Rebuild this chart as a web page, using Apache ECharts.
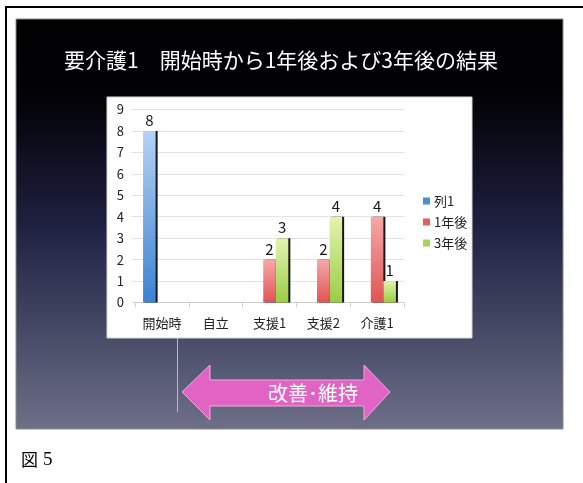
<!DOCTYPE html>
<html>
<head>
<meta charset="utf-8">
<script src="https://cdn.jsdelivr.net/npm/echarts@6/dist/echarts.min.js"></script>
<style>
html,body{margin:0;padding:0;background:#fff;}
#chart{width:583px;height:483px;}
</style>
</head>
<body>
<div id="chart"></div>
<script>
var categories = ['開始時', '自立', '支援1', '支援2', '介護1'];
var seriesNames = ['列1', '1年後', '3年後'];
var valuesCol1 = [8, '-', '-', '-', '-'];
var values1Year = ['-', '-', 2, 2, 4];
var values3Year = ['-', '-', 3, 4, 1];
var yTicks = [0, 1, 2, 3, 4, 5, 6, 7, 8, 9];
var titleText = '要介護1\u3000開始時から1年後および3年後の結果';
var arrowText = '改善\uFF65維持';
var figChar = '図';
var figNum = '5';

var FONT = '"Noto Sans CJK JP", "Noto Sans", sans-serif';

function grad(top, bottom) {
  return new echarts.graphic.LinearGradient(0, 0, 0, 1, [
    {offset: 0, color: top}, {offset: 1, color: bottom}
  ]);
}
var colors = [grad('#b4d2f6', '#3b82d2'), grad('#f6a8a8', '#e05454'), grad('#e2f4b0', '#9acd44')];
var legendColors = ['#4a8fdc', '#e65a5a', '#a6d456'];

function barSeries(name, data, idx) {
  return {
    name: name,
    type: 'bar',
    data: data,
    barGap: '0%',
    barCategoryGap: '30%',
    itemStyle: {
      color: colors[idx],
      shadowColor: 'rgba(10,10,10,0.95)',
      shadowOffsetX: 2,
      shadowOffsetY: 0,
      shadowBlur: 0
    },
    label: {
      show: true,
      position: 'top',
      distance: 3,
      color: '#1a1a1a',
      fontSize: 15,
      fontFamily: FONT
    },
    z: 3
  };
}

var chart = echarts.init(document.getElementById('chart'), null, {renderer: 'canvas'});
chart.setOption({
  animation: false,
  backgroundColor: '#fff',
  title: {
    text: titleText,
    left: 276,
    textAlign: 'center',
    top: 45,
    textStyle: {color: '#fff', fontSize: 21, fontWeight: 'normal', fontFamily: FONT}
  },
  legend: {
    orient: 'vertical',
    left: 418,
    top: 189,
    itemWidth: 7,
    itemHeight: 7,
    itemGap: 7,
    icon: 'rect',
    data: seriesNames.map(function (n, i) { return {name: n, itemStyle: {color: legendColors[i]}}; }),
    textStyle: {color: '#222', fontSize: 13, fontFamily: FONT, lineHeight: 14, padding: [0, 0, 0, -1]}
  },
  grid: {left: 135, top: 109.5, width: 269, height: 193, containLabel: false},
  xAxis: {
    type: 'category',
    data: categories,
    axisLine: {lineStyle: {color: '#cfcfcf'}},
    axisTick: {show: true, length: 5, lineStyle: {color: '#cfcfcf'}},
    axisLabel: {color: '#222', fontSize: 13, margin: 14, fontFamily: FONT}
  },
  yAxis: {
    type: 'value',
    min: yTicks[0],
    max: yTicks[yTicks.length - 1],
    interval: 1,
    axisLine: {show: false},
    axisTick: {show: true, length: 3, lineStyle: {color: '#dcdcdc'}},
    splitLine: {lineStyle: {color: '#e2e2e2'}},
    axisLabel: {color: '#222', fontSize: 13, margin: 11, fontFamily: FONT}
  },
  graphic: [
    {type: 'line', shape: {x1: 5, y1: 7, x2: 583, y2: 7}, style: {stroke: '#000', lineWidth: 2}, z: -10},
    {type: 'line', shape: {x1: 6, y1: 6, x2: 6, y2: 483}, style: {stroke: '#000', lineWidth: 2}, z: -10},
    {type: 'rect', shape: {x: 16, y: 19, width: 547, height: 410},
      style: {fill: new echarts.graphic.LinearGradient(0, 0, 0, 1, [
        {offset: 0, color: '#000000'},
        {offset: 0.2, color: '#030308'},
        {offset: 0.5, color: '#1e2040'},
        {offset: 0.75, color: '#454864'},
        {offset: 1, color: '#6e7088'}
      ]), stroke: '#8a8a8a', lineWidth: 1}, z: -9},
    {type: 'rect', shape: {x: 107, y: 97, width: 365, height: 241},
      style: {fill: '#ffffff', stroke: '#d8d8d8', lineWidth: 1}, z: -8},
    {type: 'line', shape: {x1: 177.5, y1: 338, x2: 177.5, y2: 412}, style: {stroke: '#b8b8c4', lineWidth: 1}, z: -7},
    {type: 'polygon', shape: {points: [
      [182, 392], [210, 365], [210, 380], [364, 380], [364, 365], [390, 392],
      [364, 420], [364, 406], [210, 406], [210, 420]
    ]}, style: {fill: '#e163c3', stroke: '#f2a6e2', lineWidth: 1}, z: -6},
    {type: 'text', x: 313, y: 393, style: {text: arrowText, fill: '#fff', fontSize: 20, fontFamily: FONT,
      align: 'center', verticalAlign: 'middle'}, z: -5},
    {type: 'text', x: 21, y: 460, style: {text: figChar, fill: '#000', fontSize: 17, fontFamily: FONT,
      align: 'left', verticalAlign: 'middle'}, z: -5},
    {type: 'text', x: 43, y: 460, style: {text: figNum, fill: '#000',
      font: '19px "Liberation Serif", "DejaVu Serif", serif', align: 'left', verticalAlign: 'middle'}, z: -5}
  ],
  series: [
    barSeries(seriesNames[0], valuesCol1, 0),
    barSeries(seriesNames[1], values1Year, 1),
    barSeries(seriesNames[2], values3Year, 2)
  ]
});
</script>
</body>
</html>
